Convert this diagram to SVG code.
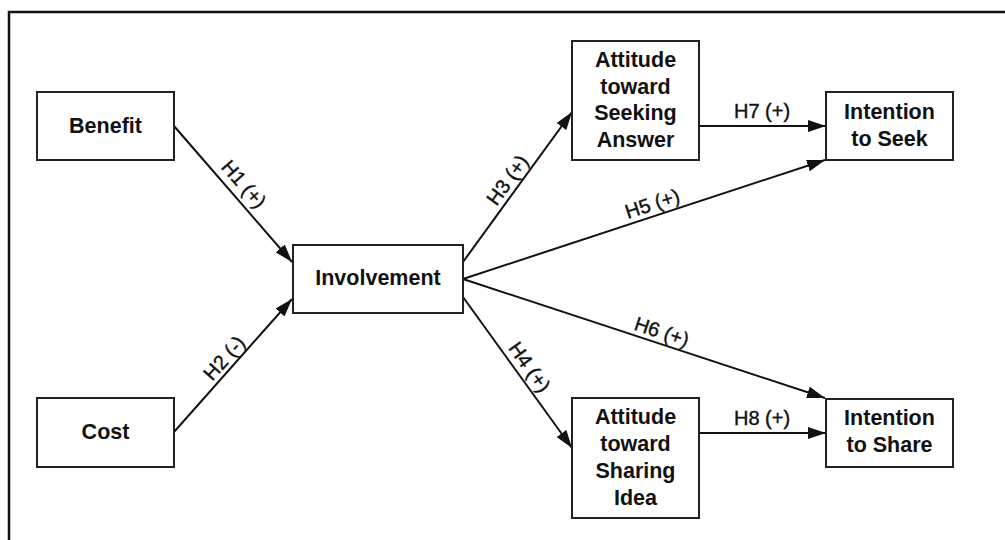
<svg xmlns="http://www.w3.org/2000/svg" width="1005" height="540" viewBox="0 0 1005 540">
<style>
.box{fill:#fff;stroke:#222;stroke-width:2}
.nt{font-family:"Liberation Sans",Arial,sans-serif;font-size:21.5px;font-weight:bold;fill:#111;text-anchor:middle}
.lt{font-family:"Liberation Sans",Arial,sans-serif;font-size:20px;fill:#111;stroke:#111;stroke-width:0.4;text-anchor:middle}
.edge{stroke:#111;stroke-width:2;fill:none;marker-end:url(#arr)}
</style>
<defs>
<marker id="arr" markerUnits="userSpaceOnUse" markerWidth="18" markerHeight="12" refX="18" refY="6" orient="auto">
<path d="M0,0 L18,6 L0,12 z" fill="#111"/>
</marker>
</defs>
<rect x="9" y="12" width="1010" height="540" fill="#fff" stroke="#111" stroke-width="2.5"/>
<g id="connectors">
<line class="edge" x1="174" y1="126" x2="292" y2="262"/>
<line class="edge" x1="174" y1="432" x2="292" y2="299"/>
<line class="edge" x1="463" y1="262" x2="572" y2="112"/>
<line class="edge" x1="463" y1="297" x2="572" y2="448"/>
<line class="edge" x1="463" y1="279" x2="825" y2="160"/>
<line class="edge" x1="463" y1="279" x2="825" y2="398"/>
<line class="edge" x1="699" y1="126" x2="826" y2="126"/>
<line class="edge" x1="699" y1="433" x2="826" y2="433"/>
<text class="lt" transform="translate(235,192) rotate(49)" y="-5">H1 (+)</text>
<text class="lt" transform="translate(233,366) rotate(-48.4)" y="-5">H2 (-)</text>
<text class="lt" transform="translate(517,187) rotate(-54)" y="-5">H3 (+)</text>
<text class="lt" transform="translate(520,374) rotate(54.2)" y="-5">H4 (+)</text>
<text class="lt" transform="translate(656,215) rotate(-18.2)" y="-5">H5 (+)</text>
<text class="lt" transform="translate(658,343) rotate(18.2)" y="-5">H6 (+)</text>
<text class="lt" x="762" y="118">H7 (+)</text>
<text class="lt" x="762" y="425">H8 (+)</text>
</g>
<g id="benefit"><rect class="box" x="37" y="92" width="137" height="68"/><text class="nt" x="105.5" y="133">Benefit</text></g>
<g id="cost"><rect class="box" x="37" y="398" width="137" height="69"/><text class="nt" x="105.5" y="439">Cost</text></g>
<g id="involvement"><rect class="box" x="293" y="245" width="170" height="68"/><text class="nt" x="378" y="285">Involvement</text></g>
<g id="att-seek"><rect class="box" x="572" y="41" width="127" height="119"/><text class="nt" x="635.5" y="67"><tspan x="635.5">Attitude</tspan><tspan x="635.5" dy="26.7">toward</tspan><tspan x="635.5" dy="26.7">Seeking</tspan><tspan x="635.5" dy="26.7">Answer</tspan></text></g>
<g id="int-seek"><rect class="box" x="826" y="92" width="127" height="68"/><text class="nt" x="889.5" y="119"><tspan x="889.5">Intention</tspan><tspan x="889.5" dy="26.7">to Seek</tspan></text></g>
<g id="att-share"><rect class="box" x="572" y="398" width="127" height="120"/><text class="nt" x="635.5" y="424"><tspan x="635.5">Attitude</tspan><tspan x="635.5" dy="27">toward</tspan><tspan x="635.5" dy="27">Sharing</tspan><tspan x="635.5" dy="27">Idea</tspan></text></g>
<g id="int-share"><rect class="box" x="826" y="399" width="127" height="68"/><text class="nt" x="889.5" y="425"><tspan x="889.5">Intention</tspan><tspan x="889.5" dy="27">to Share</tspan></text></g>
</svg>
